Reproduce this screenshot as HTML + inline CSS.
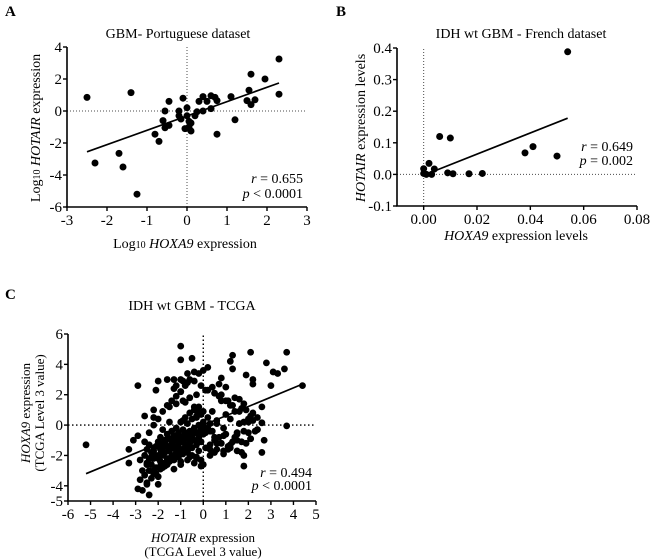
<!DOCTYPE html>
<html><head><meta charset="utf-8"><style>
body{margin:0;background:#fff;}
svg{display:block;font-family:"Liberation Serif",serif;}
</style></head><body>
<svg id="fig" width="650" height="559" viewBox="0 0 650 559" xmlns="http://www.w3.org/2000/svg">
<text x="5" y="16" font-size="15" font-weight="bold">A</text>
<text x="336" y="16" font-size="15" font-weight="bold">B</text>
<text x="5" y="299" font-size="15" font-weight="bold">C</text>

<text x="178" y="38" font-size="14" text-anchor="middle">GBM- Portuguese dataset</text>
<text x="185" y="248" font-size="14" text-anchor="middle">Log<tspan font-size="10">10</tspan> <tspan font-style="italic">HOXA9</tspan> expression</text>
<text transform="translate(40,128) rotate(-90)" font-size="14" text-anchor="middle">Log<tspan font-size="10">10</tspan> <tspan font-style="italic">HOTAIR</tspan> expression</text>
<text x="303" y="183" font-size="14" text-anchor="end"><tspan font-style="italic">r</tspan> = 0.655</text>
<text x="303" y="198" font-size="14" text-anchor="end"><tspan font-style="italic">p</tspan> &lt; 0.0001</text>

<text x="521" y="38" font-size="14" text-anchor="middle">IDH wt GBM - French dataset</text>
<text x="516" y="240" font-size="14" text-anchor="middle"><tspan font-style="italic">HOXA9</tspan> expression levels</text>
<text transform="translate(365,128) rotate(-90)" font-size="14" text-anchor="middle"><tspan font-style="italic">HOTAIR</tspan> expression levels</text>
<text x="633" y="151" font-size="14" text-anchor="end"><tspan font-style="italic">r</tspan> = 0.649</text>
<text x="633" y="165" font-size="14" text-anchor="end"><tspan font-style="italic">p</tspan> = 0.002</text>

<text x="192" y="310" font-size="14" text-anchor="middle">IDH wt GBM - TCGA</text>
<text x="203" y="542" font-size="13" text-anchor="middle"><tspan font-style="italic">HOTAIR</tspan> expression</text>
<text x="203" y="556" font-size="13" text-anchor="middle">(TCGA Level 3 value)</text>
<text transform="translate(30,413) rotate(-90)" font-size="13" text-anchor="middle"><tspan font-style="italic">HOXA9</tspan> expression</text>
<text transform="translate(44,413) rotate(-90)" font-size="13" text-anchor="middle">(TCGA Level 3 value)</text>
<text x="312" y="477" font-size="14" text-anchor="end"><tspan font-style="italic">r</tspan> = 0.494</text>
<text x="312" y="490" font-size="14" text-anchor="end"><tspan font-style="italic">p</tspan> &lt; 0.0001</text>
</svg>
<script>
// Panel A data
const aX=[-2.5,-2.3,-1.7,-1.6,-1.4,-1.25,-0.8,-0.7,-0.6,-0.55,-0.55,-0.45,-0.45,-0.2,-0.2,-0.15,-0.1,-0.05,0,0,0.05,0.05,0.1,0.1,0.2,0.25,0.3,0.4,0.4,0.5,0.6,0.6,0.7,0.75,0.75,1.1,1.2,1.5,1.55,1.6,1.6,1.7,1.95,2.3,2.3];
const aY=[0.85,-3.25,-2.65,-3.5,1.15,-5.2,-1.45,-1.9,-0.6,0,-1.05,-0.9,0.6,-0.3,0,-0.5,0.8,-1.1,0.2,-0.3,-0.65,-1.0,-0.75,-1.25,-0.3,-0.05,0.6,0.9,0,0.6,0.95,0.15,0.85,0.65,-1.45,0.9,-0.55,0.65,1.3,2.3,0.4,0.7,2.0,3.25,1.05];
const aFit=[-2.5,-2.55,2.3,1.75];
const aXTicks=["-3","-2","-1","0","1","2","3"];
const aYTicks=["4","2","0","-2","-4","-6"];
// Panel B data
const bX=[0,0,0.002,0.001,0.003,0.004,0.006,0.009,0.010,0.011,0.017,0.022,0.038,0.041,0.050,0.054];
const bY=[0.018,0.003,0.035,0,0,0.017,0.12,0.005,0.115,0.002,0.002,0.003,0.068,0.088,0.058,0.388];
const bFit=[0.002,0.004,0.054,0.178];
const bXTicks=["0.00","0.02","0.04","0.06","0.08"];
const bYTicks=["0.4","0.3","0.2","0.1","0.0","-0.1"];
// Panel C data
const cX=[-5.2,-2.9,-1.0,-1.0,-0.5,1.3,2.1,3.7,4.4,3.7,2.6,2.7,2.6,1.8,-2.4,-2.9,-2.0,-3.3,-3.3,-3.1,-2.9,-2.6,-2.2,-2.2,-2.1,-2.0,-1.6,-1.3,-1.2,-0.9,-0.8,-0.6,-0.4,-0.2,0,0.2,-0.7,-1.0,0.8,0.7,1.0,1.2,1.3,1.9,2.2,2.2,2.8,3.1,3.3,3.6,3.0,2.6,2.4,2.0,
-2.8,-2.7,-2.6,-2.5,-2.5,-2.4,-2.4,-2.3,-2.3,-2.2,-2.2,-2.1,-2.1,-2.0,-2.0,-2.0,-1.9,-1.9,-1.9,-1.8,-1.8,-1.8,-1.7,-1.7,-1.7,-1.6,-1.6,-1.6,-1.5,-1.5,-1.5,-1.4,-1.4,-1.4,-1.3,-1.3,-1.3,-1.2,-1.2,-1.2,-1.1,-1.1,-1.1,-1.0,-1.0,-1.0,-0.9,-0.9,-0.9,-0.8,-0.8,-0.8,-0.7,-0.7,-0.7,-0.6,-0.6,-0.6,-0.5,-0.5,-0.5,-0.4,-0.4,-0.4,-0.3,-0.3,-0.3,-0.2,-0.2,-0.2,-0.1,-0.1,-0.1,0,0,0,
-2.6,-2.5,-2.4,-2.3,-2.2,-2.1,-2.0,-1.9,-1.8,-1.7,-1.6,-1.5,-1.4,-1.3,-1.2,-1.1,-1.0,-0.9,-0.8,-0.7,-0.6,-0.5,-0.4,-0.3,-0.2,-0.1,0.1,0.2,0.3,0.4,
-2.7,-2.5,-2.3,-2.1,-1.9,-1.7,-1.5,-1.3,-1.1,-0.9,-0.7,-0.5,-0.3,-0.1,0.1,0.3,0.5,0.7,0.9,1.1,1.3,1.5,1.7,1.9,2.1,2.3,
-2.8,-2.6,-2.4,-2.2,-2.0,-1.8,-1.6,-1.4,-1.2,-1.0,-0.8,-0.6,-0.4,-0.2,0,0.2,0.4,0.6,0.8,1.0,1.2,1.4,1.6,1.8,2.0,2.2,
-1.8,-1.5,-1.2,-0.9,-0.6,-0.3,0,0.3,0.6,0.9,1.2,1.5,1.8,2.1,2.4,
-1.5,-1.2,-0.9,-0.6,-0.3,0.1,0.4,0.7,1.0,1.3,1.6,1.9,2.2,
-1.3,-1.0,-0.7,-0.4,-0.1,0.2,0.5,0.8,1.1,1.4,1.7,2.0,
-2.2,-1.9,-1.6,-1.3,-1.0,-0.7,-0.4,-0.1,0.3,0.6,0.9,1.2,1.5,1.8,2.1,2.4,
-2.5,-2.2,-1.9,-1.6,-1.3,-1.0,-0.6,-0.2,0.2,0.5,0.8,1.1,1.4,1.7,
0.3,0.6,0.9,1.2,1.5,1.8,0.5,1.0,1.6,-0.3,0.0,-0.6];
const cY=[-1.3,2.6,5.2,4.3,4.4,4.6,4.8,4.8,2.6,-0.05,0.15,-1.0,-1.8,-2.7,-4.6,-4.2,-3.9,-1.6,-2.5,-1.0,-0.7,0.6,0.5,1.0,2.3,2.9,3.0,3.0,2.6,2.9,2.6,3.0,3.5,3.4,3.6,3.8,3.4,3.0,3.1,2.7,2.5,4.2,3.7,3.3,3.0,2.7,4.1,3.5,3.4,3.7,2.6,1.2,0.5,-0.5,
-3.6,-3.0,-3.3,-2.6,-3.8,-2.2,-3.0,-1.8,-2.6,-1.5,-3.2,-2.0,-2.8,-1.3,-2.2,-3.4,-1.6,-2.4,-0.8,-1.2,-2.0,-2.8,-1.0,-1.8,-2.5,-0.6,-1.4,-2.2,-0.9,-1.7,-2.4,-0.4,-1.2,-2.0,-0.7,-1.5,-2.3,-0.2,-1.0,-1.8,-0.5,-1.3,-2.1,0.2,-0.8,-1.6,-0.3,-1.1,-1.9,0.5,-0.6,-1.4,0.1,-0.9,-1.7,0.8,-0.4,-1.2,0.4,-0.7,-1.5,1.0,-0.2,-1.0,0.6,-0.5,-1.3,1.2,0.0,-0.8,0.7,-0.3,-1.1,0.9,0.1,-0.6,
-2.0,-1.6,-1.3,-2.1,-1.7,-1.4,-1.1,-1.9,-1.5,-1.2,-0.9,-1.7,-1.3,-1.0,-0.7,-1.5,-1.1,-0.8,-0.5,-1.3,-0.9,-0.6,-0.3,-1.1,-0.7,-0.4,-0.5,-0.2,0.1,-0.4,
-4.3,-3.9,-3.5,-3.2,-2.9,-2.7,-2.4,-2.1,-1.9,-1.6,-1.8,-2.0,-2.1,-2.3,-1.5,-1.3,-1.0,-0.8,-1.7,-1.4,-1.1,-0.6,-1.8,-1.2,-0.9,-0.4,
-2.3,-1.1,-0.5,0.0,0.4,0.9,1.3,1.6,1.9,2.2,1.5,1.8,1.2,0.8,0.2,0.5,0.9,0.3,1.6,0.7,1.3,1.8,0.9,1.4,0.4,0.8,
-0.3,0.2,-0.2,0.3,-0.6,0.5,-0.1,-0.4,0.1,-0.2,0.4,-0.5,0.2,0.6,-0.3,
1.2,1.4,1.6,1.8,2.0,2.3,2.5,1.9,1.6,1.3,1.7,1.0,0.3,
2.4,2.2,2.8,2.9,2.6,2.3,2.1,2.0,1.6,0.9,1.1,0.2,
-3.0,-2.7,-2.4,-2.9,-2.6,-2.3,-2.5,-2.7,-2.0,-1.6,-1.9,-1.3,-1.7,-2.0,-0.9,-0.3,
-2.5,-2.2,-2.8,-2.6,-1.4,-2.4,-2.1,-1.7,-1.5,-1.8,-1.2,-1.6,-0.8,-1.1,
-1.6,-1.2,-0.7,-1.5,-1.0,-0.4,-0.8,-0.6,0.1,-2.2,-2.6,-1.4];
const cFit=[-5.2,-3.2,4.4,2.7];
const cXTicks=["-6","-5","-4","-3","-2","-1","0","1","2","3","4","5"];
const cYTicks=["6","4","2","0","-2","-4","-5"];

const NS="http://www.w3.org/2000/svg";
const svg=document.getElementById('fig');
function mk(tag,attrs,parent){const e=document.createElementNS(NS,tag);for(const k in attrs)e.setAttribute(k,attrs[k]);(parent||svg).appendChild(e);return e;}
function lin(d0,d1,p0,p1){return v=>p0+(v-d0)/(d1-d0)*(p1-p0);}

function panel(o){
  const g=mk('g',{});
  
  
  const sx=lin(o.xd[0],o.xd[1],o.xp[0],o.xp[1]);
  const sy=lin(o.yd[0],o.yd[1],o.yp[0],o.yp[1]);
  const zx=mk('line',{x1:sx(0),x2:sx(0),y1:o.yp[0],y2:o.yp[1],stroke:'#000','stroke-width':o.dotW,'stroke-dasharray':o.dash,opacity:o.dotOp},g);
  
  
  const zy=mk('line',{x1:o.xp[0],x2:o.xp[1],y1:sy(0),y2:sy(0),stroke:'#000','stroke-width':o.dotW,'stroke-dasharray':o.dash,opacity:o.dotOp},g);
  
  
  o.X.forEach((v,i)=>{const c=mk('circle',{cx:sx(v),cy:sy(o.Y[i]),r:o.r,fill:'#000'},g);
    
    });
  const f=mk('line',{x1:sx(o.fit[0]),y1:sy(o.fit[1]),x2:sx(o.fit[2]),y2:sy(o.fit[3]),stroke:'#000','stroke-width':1.7},g);
  
  
  const ax=mk('line',{x1:o.xp[0]-0.8,x2:o.xp[1],y1:o.yp[0],y2:o.yp[0],stroke:'#000','stroke-width':1.6},g);
  
  
  const ay=mk('line',{x1:o.xp[0],x2:o.xp[0],y1:o.yp[0],y2:o.yp[1],stroke:'#000','stroke-width':1.6},g);
  
  
  o.xt.forEach(t=>{const x=sx(parseFloat(t));
    mk('line',{x1:x,x2:x,y1:o.yp[0],y2:o.yp[0]+4,stroke:'#000','stroke-width':1.4},g);
    const tx=mk('text',{x:x,y:o.yp[0]+18,'font-size':o.fs,'text-anchor':'middle'},g);tx.textContent=t;
    
    });
  o.yt.forEach(t=>{const y=sy(parseFloat(t));
    mk('line',{x1:o.xp[0]-4,x2:o.xp[0],y1:y,y2:y,stroke:'#000','stroke-width':1.4},g);
    const tx=mk('text',{x:o.xp[0]-5,y:y+5,'font-size':o.fs,'text-anchor':'end'},g);tx.textContent=t;
    
    });
}
panel({name:'panel-a-plot',X:aX,Y:aY,fit:aFit,xt:aXTicks,yt:aYTicks,xd:[-3,3],xp:[67,307],yd:[-6,4],yp:[207,47],r:3.5,fs:15,dotW:1,dotOp:0.7,dash:'1,2'});
panel({name:'panel-b-plot',X:bX,Y:bY,fit:bFit,xt:bXTicks,yt:bYTicks,xd:[-0.01,0.08],xp:[397,637],yd:[-0.1,0.4],yp:[206,48],r:3.5,fs:15,dotW:1,dotOp:0.7,dash:'1,2'});
panel({name:'panel-c-plot',X:cX,Y:cY,fit:cFit,xt:cXTicks,yt:cYTicks,xd:[-6,5],xp:[68,316],yd:[-5,6],yp:[501,334],r:3.4,fs:15,dotW:1.4,dotOp:1,dash:'1.5,2.5'});
</script>
</body></html>
